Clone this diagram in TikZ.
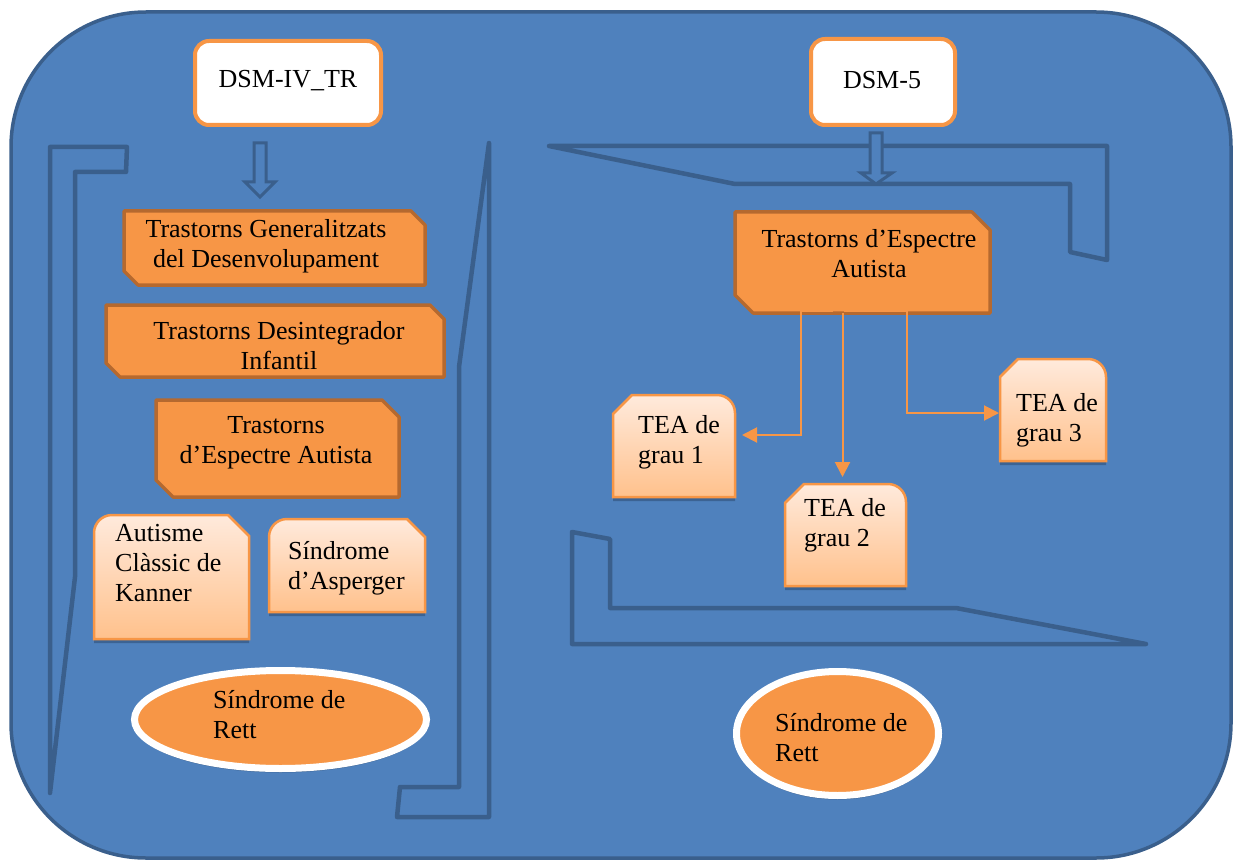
\documentclass[tikz,border=0pt]{standalone}
\usepackage{fontspec}
\setmainfont{Liberation Serif}
\usetikzlibrary{shapes.geometric,arrows.meta,shadows,calc}
\definecolor{bgblue}{HTML}{4F81BD}
\definecolor{dkblue}{HTML}{3A5F8C}
\definecolor{orng}{HTML}{F79646}
\definecolor{orngdk}{HTML}{B5692F}
\definecolor{peachtop}{HTML}{FFEADC}
\definecolor{peachbot}{HTML}{FFC18C}
\definecolor{shadowblue}{HTML}{2E4C72}
% snipped NE + SW corners
\newcommand\mysnipbox[3][]{%
  \path[#1] (#2.north west) -- ([xshift=-#3pt]#2.north east) -- ([yshift=-#3pt]#2.north east)
    -- (#2.south east) -- ([xshift=#3pt]#2.south west) -- ([yshift=#3pt]#2.south west) -- cycle;}
% round NW, snip NE
\newcommand\myroundsnip[4][]{%
  \path[#1] (#2.south west) -- ([yshift=-#3pt]#2.north west)
    .. controls ([yshift={-0.45*#3pt}]#2.north west) and ([xshift={0.45*#3pt}]#2.north west) .. ([xshift=#3pt]#2.north west)
    -- ([xshift=-#4pt]#2.north east) -- ([yshift=-#4pt]#2.north east) -- (#2.south east) -- cycle;}
% snip NW, round NE
\newcommand\mysnipround[4][]{%
  \path[#1] (#2.south west) -- ([yshift=-#3pt]#2.north west) -- ([xshift=#3pt]#2.north west)
    -- ([xshift=-#4pt]#2.north east)
    .. controls ([xshift={-0.45*#4pt}]#2.north east) and ([yshift={-0.45*#4pt}]#2.north east) .. ([yshift=-#4pt]#2.north east)
    -- (#2.south east) -- cycle;}
\tikzset{
  holder/.style={inner sep=0pt, outer sep=0pt, draw=none},
  obox/.style={fill=orng, draw=orngdk, line width=3.5pt, line join=round},
  pbox/.style={top color=peachtop, bottom color=peachbot, draw=orng, line width=2.5pt,
    drop shadow={shadow xshift=0pt, shadow yshift=-4pt, fill=shadowblue, opacity=0.55}},
  dsm/.style={fill=white, draw=orng, line width=4pt, rounded corners=14pt, inner sep=0pt},
  rett/.style={ellipse, fill=orng, draw=white, line width=7pt, inner sep=0pt,
    drop shadow={shadow xshift=0pt, shadow yshift=-4pt, fill=shadowblue, opacity=0.55}},
  bracket/.style={draw=dkblue, line width=4.5pt, line join=round},
  hollow/.style={draw=dkblue, fill=bgblue, line width=3pt, line join=miter},
  conn/.style={draw=orng, line width=2pt, -{Triangle[length=15pt,width=15pt]}},
  txt/.style={inner sep=0pt, font=\fontsize{26}{30}\selectfont},
}
\begin{document}
\begin{tikzpicture}[x=1pt,y=-1pt]
\useasboundingbox (0,0) rectangle (1234,861);
% background panel
\draw[line width=3.5pt, draw=dkblue, fill=bgblue, rounded corners=135pt] (11,12) rectangle (1231,858);

% brackets
\draw[bracket] (50,147) -- (127,147) -- (126,172) -- (75,172) -- (75,577) -- (50,793) -- cycle;
\draw[bracket] (489,143) -- (489,817) -- (397,817) -- (400,787) -- (459,787) -- (459,367) -- cycle;
\draw[bracket] (549,146) -- (1107,146) -- (1107,260) -- (1070,252) -- (1070,184) -- (735,184) -- cycle;
\draw[bracket] (572,532) -- (610,539) -- (610,608) -- (956,608) -- (1146,644) -- (572,644) -- cycle;

% DSM boxes
\node[dsm, minimum width=186pt, minimum height=84pt] (dsm4) at (288,83) {};
\node[txt] (dsm4t) at (288,81) {DSM-IV\_TR};
\node[dsm, minimum width=144pt, minimum height=86pt] (dsm5) at (883,82) {};
\node[txt] (dsm5t) at (882,80) {DSM-5};

% hollow arrows
\draw[hollow] (254,143) -- (266,143) -- (266,182) -- (275,182) -- (260,197) -- (245,182) -- (254,182) -- cycle;
\draw[hollow] (870,133) -- (882,133) -- (882,173) -- (892,173) -- (876,184) -- (861,173) -- (870,173) -- cycle;

% left orange boxes
\node[holder, minimum width=301pt, minimum height=74pt] (b1) at (274.5,248) {};
\mysnipbox[obox]{b1}{14}
\node[txt, align=center] (b1t) at (266,246) {Trastorns Generalitzats\\del Desenvolupament};

\node[holder, minimum width=338pt, minimum height=72pt] (b2) at (275,341) {};
\mysnipbox[obox]{b2}{14}
\node[txt, align=center] (b2t) at (279,346) {Trastorns Desintegrador\\Infantil};

\node[holder, minimum width=243pt, minimum height=97pt] (b3) at (277.5,448.5) {};
\mysnipbox[obox]{b3}{17}
\node[txt, align=center] (b3t) at (276,443) {Trastorns\\d’Espectre Autista};

% right orange box
\node[holder, minimum width=255pt, minimum height=101pt] (rtea) at (862.5,262.5) {};
\mysnipbox[obox]{rtea}{18}
\node[txt, align=center] (rteat) at (869,254) {Trastorns d’Espectre\\Autista};

% peach boxes left
\node[holder, minimum width=155pt, minimum height=124pt] (kan) at (171.5,577) {};
\myroundsnip[pbox]{kan}{18}{21}
\node[txt, align=left, anchor=west] (kant) at (115,563) {Autisme\\Clàssic de\\Kanner};

\node[holder, minimum width=156pt, minimum height=93pt] (asp) at (347,565.5) {};
\myroundsnip[pbox]{asp}{18}{18}
\node[txt, align=left, anchor=west] (aspt) at (288,568) {Síndrome\\d’Asperger};

% peach boxes right
\node[holder, minimum width=122pt, minimum height=102pt] (tea1) at (674,446) {};
\mysnipround[pbox]{tea1}{19}{18}
\node[txt, align=left, anchor=west] (tea1t) at (638,442) {TEA de\\grau 1};

\node[holder, minimum width=121pt, minimum height=102pt] (tea2) at (845.5,535) {};
\mysnipround[pbox]{tea2}{19}{18}
\node[txt, align=left, anchor=west] (tea2t) at (804,525) {TEA de\\grau 2};

\node[holder, minimum width=106pt, minimum height=102pt] (tea3) at (1053,410) {};
\mysnipround[pbox]{tea3}{18}{18}
\node[txt, align=left, anchor=west] (tea3t) at (1016,420) {TEA de\\grau 3};

% connectors
\coordinate (k1) at (801,435);
\draw[conn, shorten >=7pt] ([xshift=-30pt,yshift=2pt]rtea.south) -| (k1) -- (k1 -| tea1.east);
\draw[conn, shorten >=7pt] ([xshift=-20pt]rtea.south) -- ([xshift=-20pt]rtea.south |- tea2.north);
\draw[conn, shorten >=1pt] ([xshift=-19pt,yshift=2pt]rtea.south) -- ++(63,0) |- ([yshift=-3pt]tea3.west);

% Rett ellipses
\node[rett, minimum width=292pt, minimum height=98pt] (rett1) at (280.5,719.5) {};
\node[txt, align=left, anchor=west] (rett1t) at (213,715) {Síndrome de\\Rett};
\node[rett, minimum width=202pt, minimum height=124pt] (rett2) at (837.5,733.5) {};
\node[txt, align=left, anchor=west] (rett2t) at (775,738) {Síndrome de\\Rett};
\end{tikzpicture}
\end{document}
